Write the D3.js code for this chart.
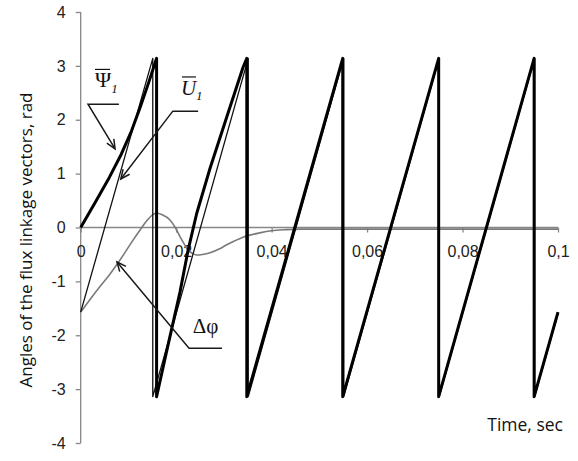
<!DOCTYPE html>
<html>
<head>
<meta charset="utf-8">
<script src="https://cdn.jsdelivr.net/npm/d3@7"></script>
<style>
  body { margin: 0; background: #fff; }
  svg { display: block; }
</style>
</head>
<body>
<svg class="chart"></svg>
<script>
// axis ticks
var xTicks = [0, 0.02, 0.04, 0.06, 0.08, 0.1];
var xTickLabels = ["0", "0,02", "0,04", "0,06", "0,08", "0,1"];
var yTicks = [-4, -3, -2, -1, 0, 1, 2, 3, 4];

// flux linkage angle Psi1 (thick line), vertices
var psiTime = [0, 0.003, 0.006, 0.0085, 0.0105, 0.0125, 0.0142, 0.0159,
	0.0159, 0.018, 0.0208, 0.0225, 0.0243, 0.0271, 0.0306, 0.034, 0.0348,
	0.0348, 0.0549, 0.0549, 0.075, 0.075, 0.095, 0.095, 0.1];
var psiValue = [0, 0.46, 0.93, 1.36, 1.76, 2.24, 2.68, 3.14,
	-3.14, -2.3, -1.2, -0.42, 0.26, 1.1, 2.05, 2.97, 3.14,
	-3.14, 3.14, -3.14, 3.14, -3.14, 3.14, -3.14, -1.57];

// voltage vector angle U1 (thin line)
var uTime = [0, 0.0151, 0.0151, 0.0351, 0.0351, 0.0551, 0.0551, 0.0751, 0.0751, 0.0951, 0.0951, 0.1];
var uValue = [-1.57, 3.14, -3.14, 3.14, -3.14, 3.14, -3.14, 3.14, -3.14, 3.14, -3.14, -1.6];

// angle difference delta phi (grey line)
var dTime = [0, 0.002, 0.004, 0.006, 0.0078, 0.0096, 0.011, 0.0124, 0.0138, 0.015, 0.0159,
	0.017, 0.0187, 0.0198, 0.0208, 0.0217, 0.0225, 0.0234, 0.0243, 0.0255, 0.0271,
	0.029, 0.0306, 0.0322, 0.034, 0.0375, 0.04, 0.043, 0.046, 0.05, 0.06, 0.1];
var dValue = [-1.57, -1.33, -1.1, -0.88, -0.66, -0.42, -0.23, -0.05, 0.12, 0.23, 0.27,
	0.24, 0.14, 0.0, -0.17, -0.31, -0.42, -0.48, -0.51, -0.5, -0.47,
	-0.4, -0.32, -0.25, -0.18, -0.1, -0.06, -0.04, -0.03, -0.03, -0.03, -0.03];

var width = 578;
var height = 461;

var svg = d3.select(".chart")
	.attr("width", width)
	.attr("height", height);

var x = d3.scaleLinear().domain([0, 0.1]).range([80.7, 558]);
var y = d3.scaleLinear().domain([-4, 4]).range([443, 12]);

var axisColor = "#878787";

// Y axis
var yAxis = svg.append("g")
	.attr("transform", "translate(" + x(0) + ",0)")
	.call(d3.axisLeft(y).tickValues(yTicks).tickSize(5).tickPadding(10)
		.tickFormat(function(d) { return d; }));

// X axis at zero
var xAxis = svg.append("g")
	.attr("transform", "translate(0," + y(0) + ")")
	.call(d3.axisBottom(x).tickValues(xTicks).tickSize(5).tickPadding(13.5)
		.tickFormat(function(d, i) { return xTickLabels[i]; }));

[yAxis, xAxis].forEach(function(ax) {
	ax.select(".domain").attr("stroke", axisColor).attr("stroke-width", 1.3);
	ax.selectAll(".tick line").attr("stroke", axisColor).attr("stroke-width", 1.3);
	ax.selectAll(".tick text")
		.attr("fill", "#222")
		.style("font-family", "'Liberation Sans', Arial, sans-serif")
		.style("font-size", "16px");
});
yAxis.select(".domain").attr("d", "M0," + y(-4) + "V" + y(4));
xAxis.select(".domain").attr("d", "M" + x(0) + ",0H" + x(0.1));

function pts(ts, vs) {
	return ts.map(function(t, i) { return [t, vs[i]]; });
}

var line = d3.line()
	.x(function(d) { return x(d[0]); })
	.y(function(d) { return y(d[1]); });

var smooth = d3.line()
	.curve(d3.curveMonotoneX)
	.x(function(d) { return x(d[0]); })
	.y(function(d) { return y(d[1]); });

// Delta phi
svg.append("path")
	.attr("d", smooth(pts(dTime, dValue)))
	.attr("fill", "none")
	.attr("stroke", "#7a7a7a")
	.attr("stroke-width", 1.6);

// U1
svg.append("path")
	.attr("d", line(pts(uTime, uValue)))
	.attr("fill", "none")
	.attr("stroke", "#111")
	.attr("stroke-width", 1.3)
	.attr("stroke-linejoin", "round");

// Psi1
svg.append("path")
	.attr("d", line(pts(psiTime, psiValue)))
	.attr("fill", "none")
	.attr("stroke", "#000")
	.attr("stroke-width", 3)
	.attr("stroke-linejoin", "round");

// annotations: [label line start, label line end, arrow tip] in data units
var notes = [
	{ a: [0.00153, 2.29], b: [0.0080, 2.29], tip: [0.0072, 1.46] },
	{ a: [0.0193, 2.16], b: [0.0246, 2.16], tip: [0.0084, 0.90] },
	{ a: [0.0227, -2.24], b: [0.0296, -2.24], tip: [0.0076, -0.64] }
];

notes.forEach(function(n) {
	var ax = x(n.a[0]), ay = y(n.a[1]);
	var bx = x(n.b[0]);
	var tx = x(n.tip[0]), ty = y(n.tip[1]);
	var ang = Math.atan2(ty - ay, tx - ax);
	var len = 10, spread = 0.42;
	var p1 = [tx - len * Math.cos(ang - spread), ty - len * Math.sin(ang - spread)];
	var p2 = [tx - len * Math.cos(ang + spread), ty - len * Math.sin(ang + spread)];
	var g = svg.append("g")
		.attr("fill", "none")
		.attr("stroke", "#1a1a1a")
		.attr("stroke-width", 1.5);
	g.append("path").attr("d", "M" + bx + "," + ay + "H" + ax + "L" + tx + "," + ty);
	g.append("path").attr("d", "M" + p1[0] + "," + p1[1] + "L" + tx + "," + ty + "L" + p2[0] + "," + p2[1]);
});

var serif = "'Liberation Serif', 'Times New Roman', serif";

// Psi1 label
var psiLabel = svg.append("text")
	.attr("x", x(0.0030))
	.attr("y", y(2.60))
	.attr("fill", "#111")
	.style("font-family", serif)
	.style("font-size", "22px");
psiLabel.append("tspan").text("Ψ");
psiLabel.append("tspan")
	.attr("dy", 6)
	.style("font-size", "13px")
	.style("font-style", "italic")
	.text("1");
svg.append("line")
	.attr("x1", x(0.0030)).attr("x2", x(0.0030) + 15)
	.attr("y1", y(2.60) - 18).attr("y2", y(2.60) - 18)
	.attr("stroke", "#111").attr("stroke-width", 1.2);

// U1 label
var uLabel = svg.append("text")
	.attr("x", x(0.0210))
	.attr("y", y(2.46))
	.attr("fill", "#111")
	.style("font-family", serif)
	.style("font-size", "21px")
	.style("font-style", "italic");
uLabel.append("tspan").text("U");
uLabel.append("tspan")
	.attr("dy", 5)
	.style("font-size", "13px")
	.text("1");
svg.append("line")
	.attr("x1", x(0.0210) + 1).attr("x2", x(0.0210) + 15)
	.attr("y1", y(2.46) - 18).attr("y2", y(2.46) - 18)
	.attr("stroke", "#111").attr("stroke-width", 1.2);

// delta phi label
svg.append("text")
	.attr("x", x(0.0235))
	.attr("y", y(-1.96))
	.attr("fill", "#111")
	.style("font-family", serif)
	.style("font-size", "21px")
	.text("Δφ");

// axis titles
var sans = "'Open Sans', sans-serif";
svg.append("text")
	.attr("transform", "translate(32," + 240 + ") rotate(-90)")
	.attr("text-anchor", "middle")
	.attr("fill", "#111")
	.style("font-family", sans)
	.style("font-size", "17px")
	.text("Angles of the flux linkage vectors, rad");

svg.append("text")
	.attr("x", 563)
	.attr("y", 431)
	.attr("text-anchor", "end")
	.attr("fill", "#111")
	.style("font-family", sans)
	.style("font-size", "17.5px")
	.text("Time, sec");
</script>
</body>
</html>
